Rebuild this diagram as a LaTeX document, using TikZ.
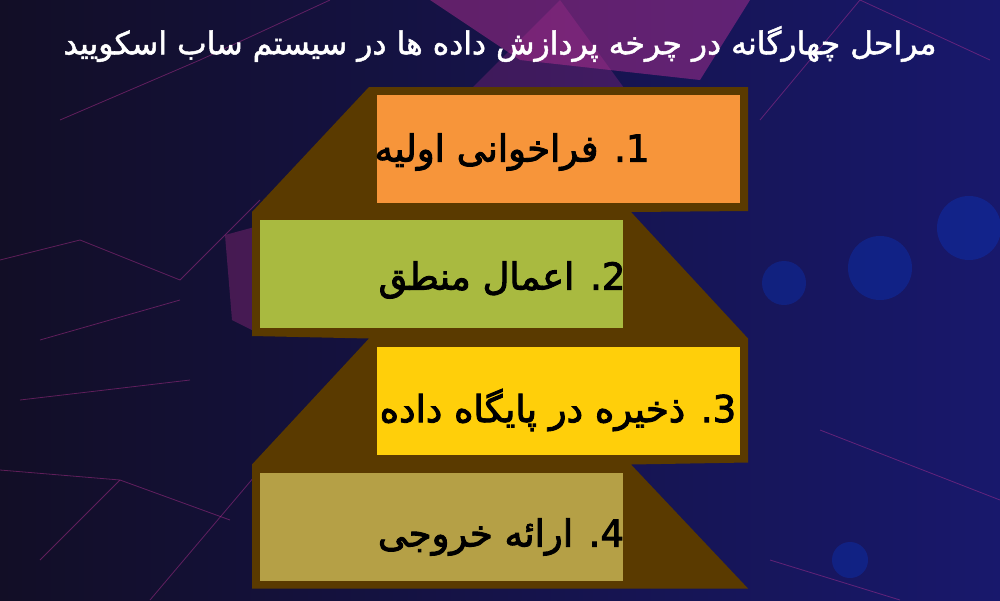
\documentclass[tikz,border=0pt]{standalone}
\usepackage{fontspec}
\usepackage{tikz}
\usetikzlibrary{positioning}
\TeXXeTstate=1
\newfontfamily\fafont[Script=Arabic,RawFeature={embolden=2.5}]{DejaVu Sans}
\newfontfamily\titlefont[Script=Arabic,RawFeature={embolden=1.5}]{DejaVu Sans}
\definecolor{bgleft}{RGB}{18,14,38}
\definecolor{bgright}{RGB}{24,24,108}
\definecolor{netpink}{RGB}{190,50,150}
\definecolor{frame}{RGB}{90,58,0}
\definecolor{stepone}{RGB}{247,149,58}
\definecolor{steptwo}{RGB}{169,186,64}
\definecolor{stepthree}{RGB}{255,207,10}
\definecolor{stepfour}{RGB}{181,160,70}
\tikzset{
    stepbox/.style={minimum width=363pt,minimum height=108pt,inner sep=0pt,outer sep=8pt},
    steptext/.style={font=\fafont\fontsize{37}{40}\selectfont,text=black},
    net/.style={netpink,opacity=0.45,line width=0.8pt}
}
\begin{document}
\begin{tikzpicture}[x=1pt,y=-1pt]
                \useasboundingbox (0,0) rectangle (1000,600);
                %background
                \shade[left color=bgleft,right color=bgright] (0,0) rectangle (1000,600);
                \fill[netpink,opacity=0.45] (430,0) -- (750,0) -- (700,80) -- (520,60) -- cycle;
                \fill[netpink,opacity=0.25] (560,0) -- (640,110) -- (470,90) -- cycle;
                \fill[netpink,opacity=0.3] (225,235) -- (262,225) -- (262,335) -- (232,320) -- cycle;
                \foreach \xa/\ya/\xb/\yb in {0/260/80/240, 80/240/180/280, 180/280/260/200,
                        40/560/120/480, 120/480/230/520, 0/470/120/480, 60/120/200/60,
                        200/60/330/0, 40/340/180/300, 20/400/190/380, 150/600/260/470,
                        760/120/860/0, 860/0/990/60, 770/560/900/600, 820/430/1000/500}
                    \draw[net] (\xa,\ya) -- (\xb,\yb);
                \foreach \cx/\cy/\r in {784/283/22, 880/268/32, 969/228/32, 850/560/18}
                    \fill[blue!70!cyan,opacity=0.22] (\cx,\cy) circle (\r);
                %title
                \node[text=white,font=\titlefont\fontsize{31.5}{34}\selectfont] (title) at (500,44)
                    {\beginR مراحل چهارگانه در چرخه پردازش داده ها در سیستم ساب اسکویید\endR};
                %boxes
                \node[stepbox,fill=stepone] (box1) at (558.5,149) {};
                \node[stepbox,fill=steptwo] (box2) at (441.5,274) {};
                \node[stepbox,fill=stepthree] (box3) at (558.5,400.5) {};
                \node[stepbox,fill=stepfour] (box4) at (441.5,526.5) {};
                %frame
                \fill[frame] (box1.north west) -- (box1.north east) -- (box1.south east)
                        -- (box2.north east) -- (box3.north east) -- (box3.south east)
                        -- (box4.north east) -- (box4.south -| box3.east) -- (box4.south west)
                        -- (box4.north west) -- (box3.north west) -- (box2.south west)
                        -- (box2.north west) -- cycle;
                \foreach \b/\c in {box1/stepone,box2/steptwo,box3/stepthree,box4/stepfour}
                    \fill[\c] (\b.north west) ++(8,8) rectangle ([shift={(-8,-8)}]\b.south east);
                %labels
                \node[steptext] (txt1) at (512,152) {\beginR 1\kern0pt. فراخوانی اولیه\endR};
                \node[steptext] (txt2) at (502,280) {\beginR 2\kern0pt. اعمال منطق\endR};
                \node[steptext] (txt3) at (558,410) {\beginR 3\kern0pt. ذخیره در پایگاه داده\endR};
                \node[steptext] (txt4) at (501,537) {\beginR 4\kern0pt. ارائه خروجی\endR};
            \end{tikzpicture}
\end{document}
